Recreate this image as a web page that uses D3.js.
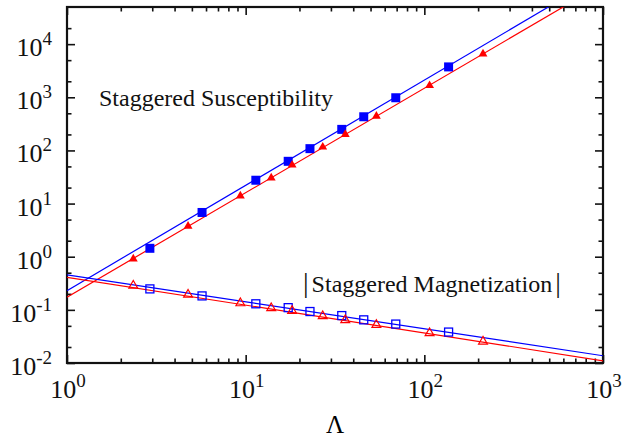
<!DOCTYPE html>
<html lang="en">
<head>
  <meta charset="UTF-8">
  <title>Staggered susceptibility and magnetization</title>
  <script src="https://d3js.org/d3.v7.min.js"></script>
  <style>
    body { margin: 0; background: #fff; }
    svg text { font-family: "Liberation Serif", "DejaVu Serif", "Noto Serif", "Times New Roman", serif; }
    .fit { fill: none; stroke-width: 1.2px; }
  </style>
</head>
<body>
  <div id="chart"></div>

  <script>
    // Lambda values of the two data sets
    const lamBlue = [2.91, 5.70, 11.4, 17.3, 22.9, 34.5, 45.8, 69.2, 136.7];
    const lamRed  = [2.35, 4.76, 9.34, 13.9, 18.2, 27.0, 36.1, 53.9, 107, 213];

    // staggered susceptibility
    const chiBlue = [1.44, 6.8, 27.5, 62.4, 108, 249, 430, 980, 3730];
    const chiRed  = [0.91, 3.77, 13.9, 30.4, 53.2, 116, 200, 442, 1665, 6550];

    // |staggered magnetization|
    const magBlue = [0.248, 0.183, 0.130, 0.110, 0.093, 0.078, 0.0649, 0.054, 0.0382];
    const magRed  = [0.286, 0.194, 0.1336, 0.1076, 0.0958, 0.0762, 0.0641, 0.0523, 0.0365, 0.0254];

    // power-law fit lines, end points [Lambda, value]
    const fitChiBlue = [[1, 0.23], [1000, 2.02e5]];
    const fitChiRed  = [[1, 0.173], [1000, 1.37e5]];
    const fitMagBlue = [[1, 0.454], [1000, 0.0137]];
    const fitMagRed  = [[1, 0.41], [1000, 0.0110]];

    const xMajor = [1, 10, 100, 1000];
    const xExp = ["0", "1", "2", "3"];
    const yMajor = [0.01, 0.1, 1, 10, 100, 1000, 10000];
    const yExp = ["-2", "-1", "0", "1", "2", "3", "4"];

    const FONT = '"Liberation Serif", "DejaVu Serif", "Noto Serif", "Times New Roman", serif';
    const W = 634, H = 437;
    const m = {top: 7, right: 31, bottom: 74, left: 67};
    const iw = W - m.left - m.right, ih = H - m.top - m.bottom;

    const x = d3.scaleLog().domain([1, 1000]).range([0, iw]);
    const y = d3.scaleLog().domain([0.01, 5e4]).range([ih, 0]);

    const xMinor = [];
    [1, 10, 100].forEach(d => { for (let k = 2; k <= 9; k++) xMinor.push(d * k); });
    const yMinor = [];
    yMajor.forEach(d => { [2, 5].forEach(k => { if (d * k < 5e4) yMinor.push(d * k); }); });

    const svg = d3.select("#chart").append("svg")
      .attr("width", W).attr("height", H)
      .style("font-family", FONT);
    const g = svg.append("g").attr("transform", `translate(${m.left},${m.top})`);

    g.append("clipPath").attr("id", "clip")
      .append("rect").attr("width", iw).attr("height", ih);

    // ticks, pointing inward on all four sides
    function ticks(axis, vals, len, tr) {
      const a = g.append("g").attr("transform", tr)
        .call(axis.tickValues(vals).tickSize(len).tickSizeOuter(0).tickFormat(""));
      a.select(".domain").remove();
      a.selectAll("line").attr("stroke", "#111").attr("stroke-width", 1.6);
      return a;
    }
    ticks(d3.axisBottom(x), xMajor, -8, `translate(0,${ih})`);
    ticks(d3.axisBottom(x), xMinor, -4.5, `translate(0,${ih})`);
    ticks(d3.axisTop(x), xMajor, -8, "translate(0,0)");
    ticks(d3.axisTop(x), xMinor, -4.5, "translate(0,0)");
    ticks(d3.axisLeft(y), yMajor, -8, "translate(0,0)");
    ticks(d3.axisLeft(y), yMinor, -4.5, "translate(0,0)");
    ticks(d3.axisRight(y), yMajor, -8, `translate(${iw},0)`);
    ticks(d3.axisRight(y), yMinor, -4.5, `translate(${iw},0)`);

    // frame
    g.append("rect").attr("width", iw).attr("height", ih)
      .attr("fill", "none").attr("stroke", "#111").attr("stroke-width", 2.2);

    // tick labels 10^n
    function powLabel(sel, e) {
      sel.style("font-family", FONT).attr("fill", "#111");
      sel.append("tspan").style("font-size", "26px").text("10");
      sel.append("tspan").style("font-size", "19px").attr("dy", -11).text(e);
    }
    xMajor.forEach((d, i) => {
      g.append("text").attr("x", x(d) + 1).attr("y", ih + 35)
        .attr("text-anchor", "middle").call(powLabel, xExp[i]);
    });
    yMajor.forEach((d, i) => {
      g.append("text").attr("x", -15).attr("y", y(d) + 12)
        .attr("text-anchor", "end").call(powLabel, yExp[i]);
    });

    g.append("text").attr("x", iw / 2).attr("y", ih + 70)
      .attr("text-anchor", "middle").style("font-family", FONT)
      .style("font-size", "25px").text("Λ");

    // fit lines
    const line = d3.line().x(d => x(d[0])).y(d => y(d[1]));
    const plot = g.append("g").attr("clip-path", "url(#clip)");
    [[fitChiBlue, "#0000ff"], [fitChiRed, "#ff0000"], [fitMagBlue, "#0000ff"], [fitMagRed, "#ff0000"]]
      .forEach(([pts, c]) => {
        plot.append("path").attr("class", "fit").attr("stroke", c).attr("d", line(pts));
      });

    // markers
    const sq = 9;
    g.selectAll(".chiB").data(lamBlue).enter().append("rect")
      .attr("x", (d, i) => x(d) - sq / 2).attr("y", (d, i) => y(chiBlue[i]) - sq / 2)
      .attr("width", sq).attr("height", sq).attr("fill", "#0000ff");
    g.selectAll(".magB").data(lamBlue).enter().append("rect")
      .attr("x", (d, i) => x(d) - 4).attr("y", (d, i) => y(magBlue[i]) - 4)
      .attr("width", 8).attr("height", 8)
      .attr("fill", "none").attr("stroke", "#0000ff").attr("stroke-width", 1.3);

    const tri = d3.symbol().type(d3.symbolTriangle).size(34);
    g.selectAll(".chiR").data(lamRed).enter().append("path")
      .attr("d", tri)
      .attr("transform", (d, i) => `translate(${x(d)},${y(chiRed[i])})`)
      .attr("fill", "#ff0000");
    g.selectAll(".magR").data(lamRed).enter().append("path")
      .attr("d", tri)
      .attr("transform", (d, i) => `translate(${x(d)},${y(magRed[i])})`)
      .attr("fill", "none").attr("stroke", "#ff0000").attr("stroke-width", 1.2);

    // annotations
    g.append("text").attr("x", 99 - m.left).attr("y", 106 - m.top)
      .style("font-family", FONT).attr("fill", "#111")
      .style("font-size", "24px").text("Staggered Susceptibility");

    const mag = g.append("text").attr("x", 303 - m.left).attr("y", 291.5 - m.top)
      .style("font-family", FONT).attr("fill", "#111").style("font-size", "24px");
    mag.append("tspan").style("font-size", "28px").text("|");
    mag.append("tspan").attr("dx", 3).text("Staggered Magnetization");
    mag.append("tspan").attr("dx", 3).style("font-size", "28px").text("|");
  </script>
</body>
</html>
